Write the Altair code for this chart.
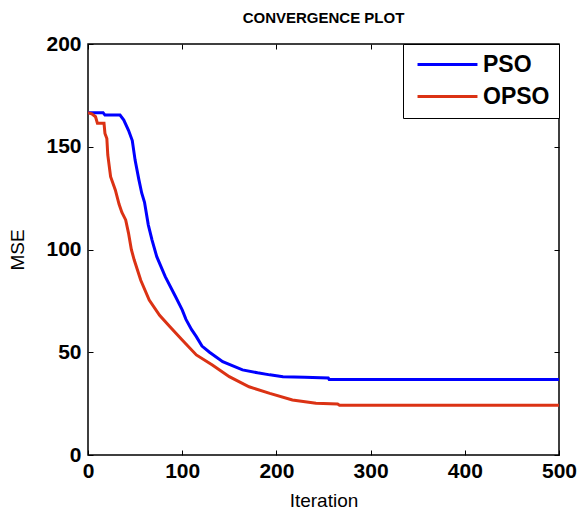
import altair as alt
import pandas as pd

# ---- data ----
pso_iter = [0, 16, 18, 34, 38, 43, 47, 50, 54, 57, 60, 64, 68, 73, 82, 93, 100, 104, 110,
            115, 121, 129, 143, 164, 180, 193, 207, 230, 255, 256, 500]
pso_mse = [166.6, 166.6, 165.4, 165.4, 163.0, 158.0, 153.0, 143.5, 134.0, 127.5, 123.0, 112.0,
           104.6, 96.5, 86.8, 77.0, 70.6, 66.0, 61.0, 57.6, 53.0, 50.0, 45.4, 41.4, 40.0, 39.0,
           38.1, 37.8, 37.5, 36.8, 36.8]

opso_iter = [0, 4, 8, 10, 17, 18, 20, 21, 24, 29, 33, 36, 40, 43, 46, 49, 56, 65, 76, 87,
             100, 115, 132, 150, 171, 193, 217, 242, 265, 267, 500]
opso_mse = [166.6, 166.0, 164.6, 161.4, 161.4, 156.5, 154.0, 146.0, 135.4, 129.0, 122.0, 118.0,
            114.4, 108.0, 100.0, 95.0, 85.0, 75.4, 68.0, 62.4, 56.0, 48.7, 43.8, 38.1, 33.2,
            30.0, 26.8, 25.2, 24.8, 24.2, 24.2]

series_names = ["PSO", "OPSO"]
series_colors = ["#0000FF", "#DB3214"]
x_ticks = [0, 100, 200, 300, 400, 500]
y_ticks = [0, 50, 100, 150, 200]

df = pd.concat([
    pd.DataFrame({"Iteration": pso_iter, "MSE": pso_mse, "Algorithm": "PSO"}),
    pd.DataFrame({"Iteration": opso_iter, "MSE": opso_mse, "Algorithm": "OPSO"}),
])

FONT = "Liberation Sans"
xscale = alt.Scale(domain=[0, 500], nice=False, zero=False)
yscale = alt.Scale(domain=[0, 200], nice=False)

common_axis = dict(domain=False, grid=False, offset=-5, tickSize=5, tickColor="black",
                   tickWidth=1, labelFlush=False)

lines = alt.Chart(df).mark_line(strokeWidth=3, clip=True).encode(
    x=alt.X("Iteration:Q", scale=xscale,
            axis=alt.Axis(values=x_ticks, title="Iteration", labelPadding=5,
                          titlePadding=10, **common_axis)),
    y=alt.Y("MSE:Q", scale=yscale,
            axis=alt.Axis(values=y_ticks, title="MSE", labelPadding=7,
                          titlePadding=18, **common_axis)),
    color=alt.Color("Algorithm:N",
                    scale=alt.Scale(domain=series_names, range=series_colors),
                    legend=alt.Legend(title=None)),
    order=alt.Order("Iteration:Q"),
)

mirror = alt.Chart(df).mark_line(opacity=0).encode(
    x=alt.X("Iteration:Q", scale=xscale,
            axis=alt.Axis(orient="top", values=x_ticks, labels=False, title=None,
                          **common_axis)),
    y=alt.Y("MSE:Q", scale=yscale,
            axis=alt.Axis(orient="right", values=y_ticks, labels=False, title=None,
                          **common_axis)),
    detail="Algorithm:N",
)

chart = alt.layer(mirror, lines).resolve_axis(x="independent", y="independent").properties(
    width=471,
    height=411,
    autosize=alt.AutoSizeParams(type="none"),
    padding={"left": 88, "top": 44, "right": 21, "bottom": 60},
    background="white",
    title=alt.Title("CONVERGENCE PLOT", fontSize=15, font=FONT, fontWeight="bold",
                    color="black", anchor="middle", offset=7),
).configure_view(
    stroke="black", strokeWidth=1.5
).configure_axis(
    labelFont=FONT, labelFontSize=21, labelFontWeight="bold", labelColor="black",
    titleFont=FONT, titleFontSize=19, titleFontWeight="normal", titleColor="black",
).configure_legend(
    orient="top-right", offset=0, strokeColor="black", fillColor="white",
    padding=9, symbolType="M-3.33,0H3.33", symbolSize=324, symbolStrokeWidth=3,
    symbolOffset=24,
    labelFont=FONT, labelFontSize=23, labelFontWeight="bold", labelColor="black",
    labelOffset=24, rowPadding=8, cornerRadius=0,
)

chart.save("out.html", embed_options={"renderer": "svg", "actions": False})
